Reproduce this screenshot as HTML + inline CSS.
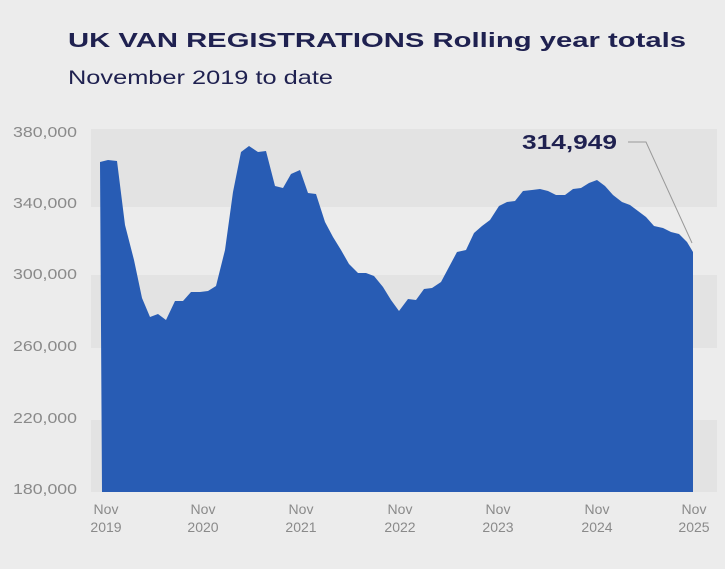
<!DOCTYPE html>
<html><head><style>
body{margin:0;background:#ececec;font-family:"Liberation Sans",sans-serif}
</style></head><body>
<svg width="725" height="564" xmlns="http://www.w3.org/2000/svg">
<rect width="725" height="564" fill="#ececec"/>
<g fill="#e3e3e3">
<rect x="91" y="129" width="626" height="78"/>
<rect x="91" y="275" width="626" height="73"/>
<rect x="91" y="420" width="626" height="72"/>
</g>
<text x="68" y="47" font-size="20" font-weight="bold" fill="#1f2150" textLength="618" lengthAdjust="spacingAndGlyphs">UK VAN REGISTRATIONS Rolling year totals</text>
<text x="68" y="84" font-size="19" fill="#1f2150" textLength="265" lengthAdjust="spacingAndGlyphs">November 2019 to date</text>
<g font-size="15" fill="#8a8a8a">
<text x="13" y="137" textLength="64" lengthAdjust="spacingAndGlyphs">380,000</text>
<text x="13" y="208" textLength="64" lengthAdjust="spacingAndGlyphs">340,000</text>
<text x="13" y="279" textLength="64" lengthAdjust="spacingAndGlyphs">300,000</text>
<text x="13" y="351" textLength="64" lengthAdjust="spacingAndGlyphs">260,000</text>
<text x="13" y="423" textLength="64" lengthAdjust="spacingAndGlyphs">220,000</text>
<text x="13" y="494" textLength="64" lengthAdjust="spacingAndGlyphs">180,000</text>
</g>
<g font-size="14" fill="#8a8a8a" text-anchor="middle">
<text x="106" y="514">Nov</text><text x="106" y="532">2019</text>
<text x="203" y="514">Nov</text><text x="203" y="532">2020</text>
<text x="301" y="514">Nov</text><text x="301" y="532">2021</text>
<text x="400" y="514">Nov</text><text x="400" y="532">2022</text>
<text x="498" y="514">Nov</text><text x="498" y="532">2023</text>
<text x="597" y="514">Nov</text><text x="597" y="532">2024</text>
<text x="694" y="514">Nov</text><text x="694" y="532">2025</text>
</g>
<polygon fill="#285cb4" points="102,492 100,162 108,160 117,161 125,225 134,260 142,298 150,317 158,314 166,320 175,301 183,301 191,292 200,292 208,291 216,286 225,250 233,192 241,152 249,146 258,152 266,151 275,186 283,188 291,174 300,170 308,193 316,194 325,222 333,237 341,250 349,264 358,273 366,273 374,276 383,287 391,300 399,311 408,299 416,300 424,289 432,288 441,282 449,267 457,252 466,250 474,233 482,226 490,220 499,206 507,202 515,201 523,191 532,190 540,189 548,191 556,195 565,195 573,189 581,188 589,183 597,180 605,186 613,195 622,202 630,205 638,211 646,217 654,226 663,228 671,232 679,234 687,242 693,252 693,492"/>
<polyline points="628,142 646,142 692,243" fill="none" stroke="#999" stroke-width="1"/>
<text x="522" y="149" font-size="20" font-weight="bold" fill="#1f2150" textLength="95" lengthAdjust="spacingAndGlyphs">314,949</text>
</svg>
</body></html>
